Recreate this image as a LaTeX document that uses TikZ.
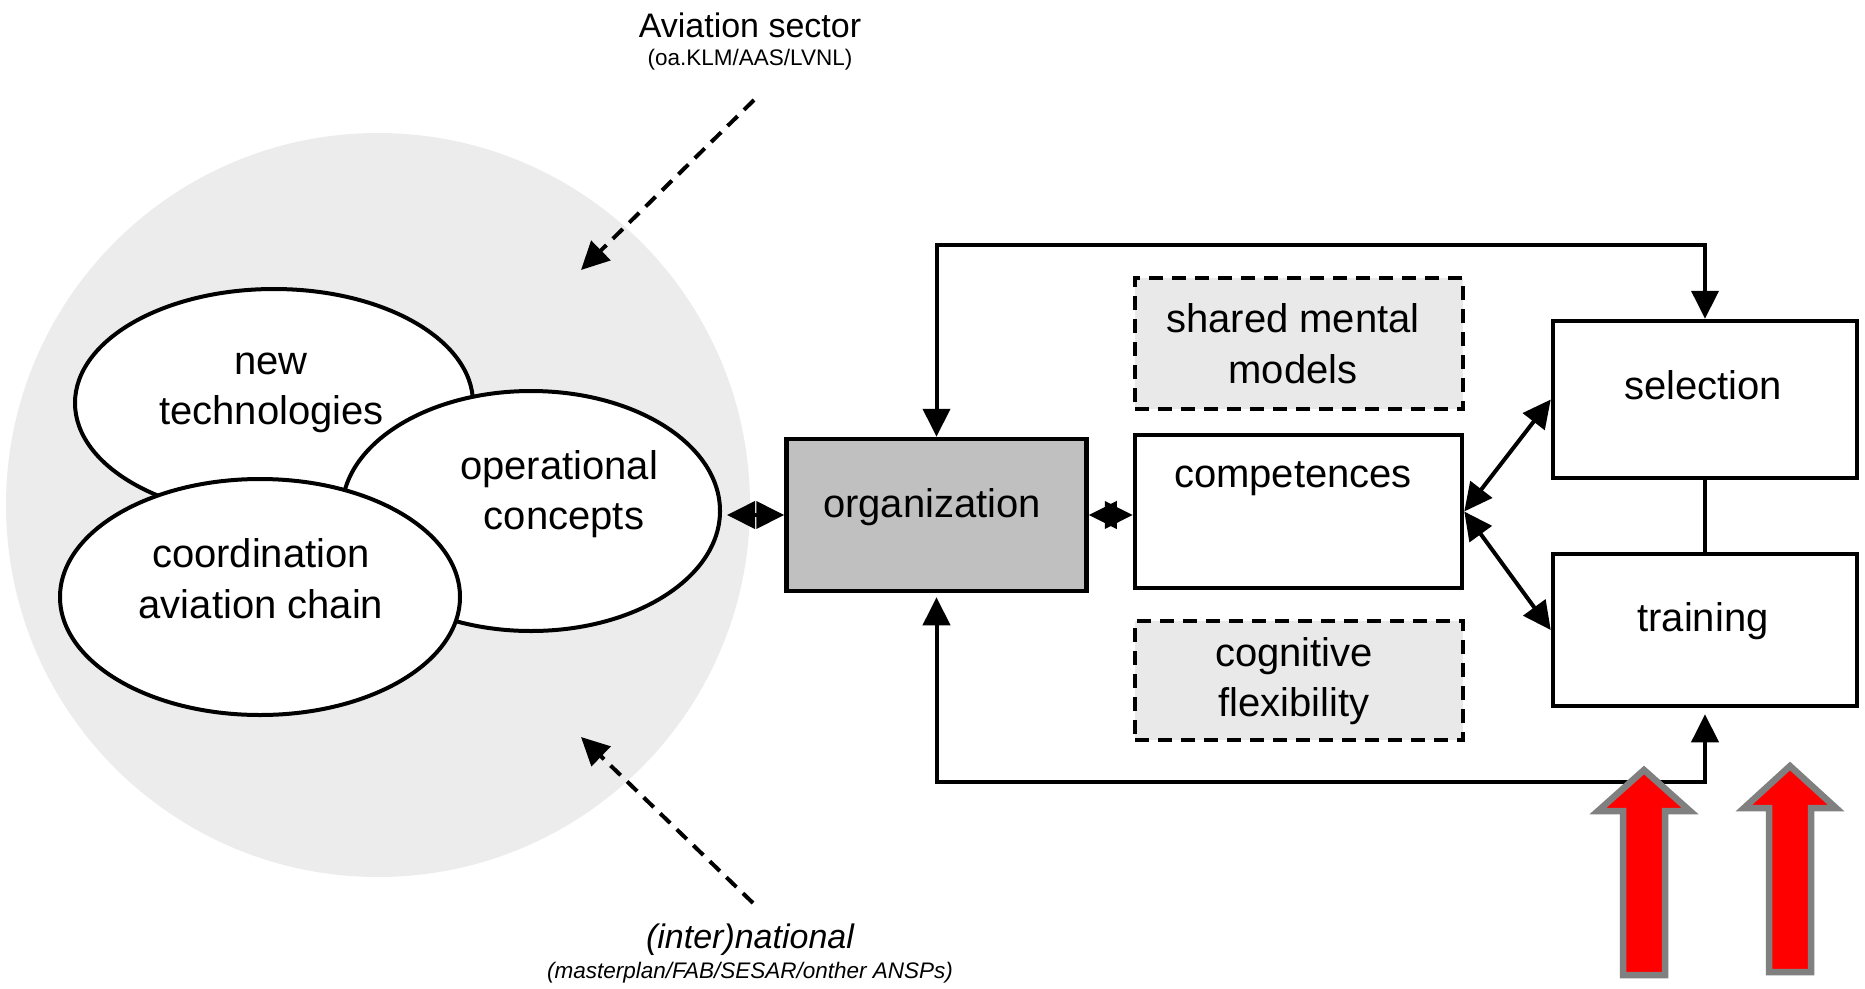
\documentclass[tikz,border=0pt]{standalone}
\usepackage{fontspec}
\setmainfont{Liberation Sans}
\usetikzlibrary{arrows.meta,shapes.geometric}
\definecolor{bggray}{RGB}{236,236,236}
\definecolor{dashgray}{RGB}{233,233,233}
\definecolor{orggray}{RGB}{192,192,192}
\definecolor{arrowgray}{RGB}{128,128,128}
\begin{document}
\begin{tikzpicture}[x=1pt,y=-1pt,
  >={Triangle[length=28pt,width=27pt]},
  conn/.style={draw=black,line width=4pt},
  dbl/.style={conn,<->},
  dasharrow/.style={conn,->,dash pattern=on 14pt off 9pt},
  box/.style={rectangle,draw=black,line width=4.5pt,inner sep=0pt,fill=white},
  dashbox/.style={box,fill=dashgray,dash pattern=on 14pt off 9pt},
  ell/.style={ellipse,draw=black,line width=4pt,fill=white,inner sep=0pt},
  lbl/.style={anchor=base,inner sep=0pt,font=\fontsize{40}{50}\selectfont},
  title/.style={anchor=base,inner sep=0pt,font=\fontsize{34}{40}\selectfont},
  subtitle/.style={anchor=base,inner sep=0pt,font=\fontsize{22.5}{26}\selectfont},
  redarrow/.style={fill=red,draw=arrowgray,line width=6.5pt}
]
\useasboundingbox (0,0) rectangle (1865,988);

% background circle
\node[circle,fill=bggray,minimum size=744pt,inner sep=0pt] (bg) at (378,505) {};

% ellipses
\node[ell,minimum width=398pt,minimum height=228pt] (nt) at (274,403) {};
\node[ell,minimum width=378pt,minimum height=240pt] (op) at (531,511) {};
\node[ell,minimum width=400pt,minimum height=236pt] (co) at (260,597) {};
\node[lbl] (ntA) at (271,374) {new};
\node[lbl] (ntB) at (271.5,424) {technologies};
\node[lbl] (opA) at (559,479) {operational};
\node[lbl] (opB) at (564,529) {concepts};
\node[lbl] (coA) at (261,567) {coordination};
\node[lbl] (coB) at (261,618) {aviation chain};

% boxes
\node[box,fill=orggray,minimum width=300pt,minimum height=152pt] (org) at (936.5,515) {};
\node[box,minimum width=327pt,minimum height=153pt] (comp) at (1298.5,511.5) {};
\node[dashbox,minimum width=328pt,minimum height=131pt] (smm) at (1299,343.5) {};
\node[dashbox,minimum width=328pt,minimum height=119pt] (cog) at (1299,680.5) {};
\node[box,minimum width=304pt,minimum height=157pt] (sel) at (1705,399.5) {};
\node[box,minimum width=304pt,minimum height=152pt] (tr) at (1705,630) {};

\node[lbl] (orgT) at (932,517) {organization};
\node[lbl] (compT) at (1293,487) {competences};
\node[lbl] (smmA) at (1293,332) {shared mental};
\node[lbl] (smmB) at (1293,383) {models};
\node[lbl] (cogA) at (1294,666) {cognitive};
\node[lbl] (cogB) at (1294,716) {flexibility};
\node[lbl] (selT) at (1703,399) {selection};
\node[lbl] (trT) at (1703,631) {training};

% titles
\node[title] (t1) at (750,37) {Aviation sector};
\node[subtitle] (t1s) at (750,65) {(oa.KLM/AAS/LVNL)};
\node[title,font=\fontsize{34}{40}\selectfont\itshape] (t2) at (750,948) {(inter)national};
\node[subtitle,font=\fontsize{22.5}{26}\selectfont\itshape] (t2s) at (750,978.5) {(masterplan/FAB/SESAR/onther ANSPs)};

% dashed influence arrows
\coordinate (d1s) at (754,100);
\coordinate (d1e) at (581,270);
\coordinate (d2s) at (753,903);
\coordinate (d2e) at (581,737);
\draw[dasharrow] (d1s) -- (d1e);
\draw[dasharrow] (d2s) -- (d2e);

% connectors
\coordinate (tl) at (0,245);
\coordinate (bl) at (0,782);
\draw[dbl,shorten <=5pt] (op.east |- org.west) -- (org.west);
\draw[dbl] (org.east) -- (org.east -| comp.west);
\draw[dbl] (comp.east) -- (sel.west);
\draw[dbl] (comp.east) -- (tr.west);
\draw[conn] (sel.south) -- (tr.north);
\draw[dbl] (org.north) -- (org.north |- tl) -| (sel.north);
\draw[dbl,shorten <=4pt,shorten >=6pt] (org.south) -- (org.south |- bl) -| (tr.south);

% red arrows
\draw[redarrow] (1644,770) -- (1690,811) -- (1665,811) -- (1665,975) -- (1623,975) -- (1623,811) -- (1598,811) -- cycle;
\draw[redarrow] (1790,766) -- (1836,808) -- (1811,808) -- (1811,972) -- (1769,972) -- (1769,808) -- (1744,808) -- cycle;
\end{tikzpicture}
\end{document}
